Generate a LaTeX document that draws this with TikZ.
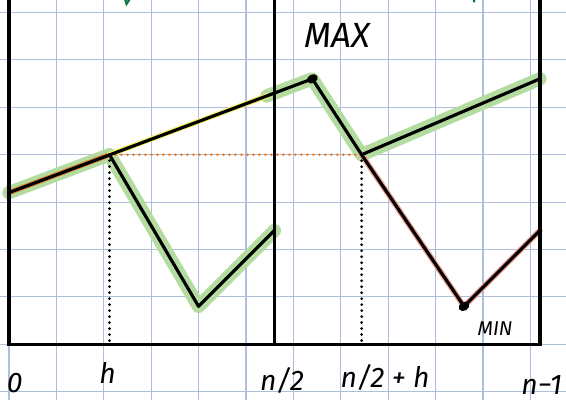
\documentclass[tikz,border=0pt]{standalone}
\usepackage{fontspec}
\setmainfont{Fira Sans}
\usepackage{tikz}
\usetikzlibrary{positioning,calc}
\usepackage{xcolor}
\definecolor{gridblue}{RGB}{175,190,218}
\definecolor{hlgreen}{RGB}{180,220,160}
\definecolor{hlred}{RGB}{240,160,145}
\definecolor{hlyellow}{RGB}{245,240,90}
\definecolor{dotorange}{RGB}{240,120,30}
\definecolor{inkgreen}{RGB}{20,120,70}

\begin{document}
\begin{tikzpicture}[x=0.8cm, y=0.8cm,
    gridline/.style={draw=gridblue, line width=0.7pt},
    frameline/.style={draw=black, line width=2pt},
    curve/.style={draw=black, line width=1.9pt, line join=round, line cap=round},
    greenhl/.style={draw=hlgreen, line width=8pt, line join=round, line cap=round},
    redhl/.style={draw=hlred, line width=3.4pt, line join=round, line cap=round},
    yellowhl/.style={draw=hlyellow, line width=3.2pt, line cap=round},
    orangehl/.style={draw=dotorange!60!brown, line width=3pt, line cap=round},
    guide/.style={draw=black, line width=1.8pt, dash pattern=on 0pt off 3.6pt, line cap=round},
    hguide/.style={draw=dotorange, line width=1.7pt, dash pattern=on 0pt off 3.6pt, line cap=round},
    hand/.style={font=\fontsize{17}{17}\selectfont\itshape, inner sep=1pt},
    handsmall/.style={font=\fontsize{12}{12}\selectfont\itshape, inner sep=1pt}
  ]
    \useasboundingbox (-0.237,-1.48) rectangle (14.69,9.08);
    \fill[white] (-0.237,-1.48) rectangle (14.69,9.08);
    \draw[gridline] (-0.237,-1.48) grid (14.69,9.08);

    % points of the two halves
    \coordinate (start) at (0,4);
    \coordinate (hpt) at (2.65,5);
    \coordinate (lmin) at (5,1);
    \coordinate (lend) at (7,3);
    \coordinate (gstart) at (6.8,6.55);
    \coordinate (max) at (8,7);
    \coordinate (hpt2) at (9.3,5);
    \coordinate (rend) at (14,7);
    \coordinate (min) at (12,1);
    \coordinate (rend2) at (14,3);
    \coordinate (hbase) at (2.65,0);
    \coordinate (hbase2) at (9.3,0);

    % highlights
    \draw[greenhl] (start) -- (hpt) -- (lmin) -- (lend);
    \draw[greenhl] (gstart) -- (max) -- (hpt2) -- (rend);
    \draw[orangehl] (start) -- (hpt);
    \draw[yellowhl] (hpt) -- (gstart);
    \draw[redhl] (hpt2) -- (min) -- (rend2);

    % frame
    \draw[frameline] (0,9.2) -- (0,0) -- (14,0) -- (14,9.2);
    \draw[frameline] (7,9.2) -- (7,0);

    % guides
    \draw[hguide] (hpt) -- (hpt2);
    \draw[guide] (hpt) -- (hbase);
    \draw[guide] (hpt2) -- (hbase2);

    % curves
    \draw[curve] (start) -- (max);
    \draw[curve] (hpt) -- (lmin) -- (lend);
    \draw[curve] (max) -- (hpt2) -- (rend);
    \draw[curve] (hpt2) -- (min) -- (rend2);
    \fill (max) circle[x radius=3.4pt, y radius=2.6pt, rotate=30];
    \fill (min) circle[x radius=3.4pt, y radius=2.6pt, rotate=30];

    % cut-off ink at the top
    \draw[inkgreen, line width=1.4pt, line cap=round] (3.07,9.08) -- (3.1,8.98) -- (3.17,9.08);
    \draw[inkgreen, line width=1.4pt, line cap=round] (12.26,9.08) -- (12.27,9.04);

    % labels
    \node[hand, font=\fontsize{21}{21}\selectfont\itshape] (maxlbl) at (8.65,8.15) {MAX};
    \node[handsmall] (minlbl) at (12.82,0.42) {MIN};
    \node[hand] (lbl0) at (0.15,-1.02) {0};
    \node[hand] (lblh) at (2.6,-0.76) {h};
    \node[hand] (lblhalf) at (7.2,-0.95) {n/2};
    \node[hand] (lblhalfh) at (9.92,-0.87) {n/2 + h};
    \node[hand] (lbllast) at (14.05,-1.08) {n−1};
\end{tikzpicture}
\end{document}
